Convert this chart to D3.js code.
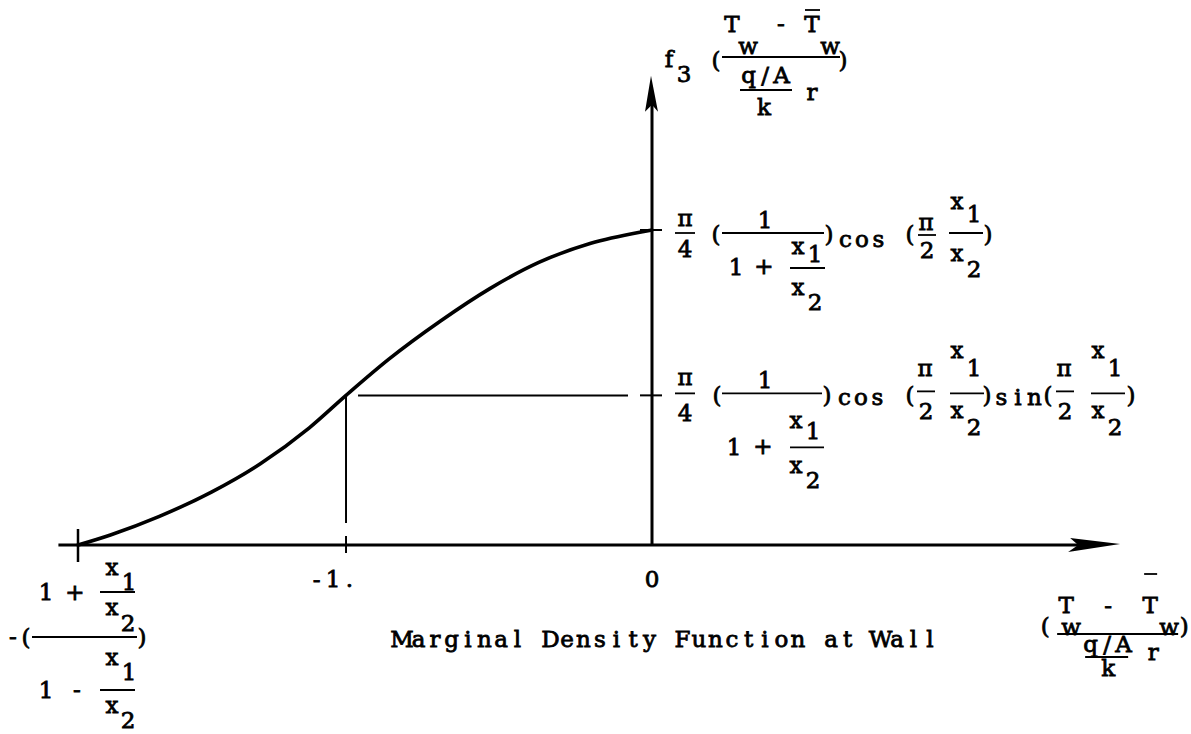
<!DOCTYPE html>
<html>
<head>
<meta charset="utf-8">
<script src="https://cdn.jsdelivr.net/npm/d3@7"></script>
<style>
  html, body { margin: 0; padding: 0; background: #fff; }
  svg text { font-family: "DejaVu Serif", serif; font-size: 23px; fill: #000; stroke: #000; stroke-width: 0.8px; }
</style>
</head>
<body>
<svg id="chart" width="1191" height="734"></svg>
<script>
// Marginal density f3 of the normalised wall temperature
const curveX = [-1.876, -1.77, -1.61, -1.44, -1.28, -1.12, -1.0, -0.86, -0.69, -0.53, -0.37, -0.2, -0.04, 0];
const curveY = [0, 0.032, 0.091, 0.168, 0.258, 0.372, 0.475, 0.590, 0.712, 0.814, 0.897, 0.958, 0.993, 1.0];

// marked abscissa and the value of f3 there
const markX = -1.0;
const markY = 0.475;

// axis ticks
const xTickValues = [-1, 0];
const xTickLabels = ["-1.", "0"];
const xEndValue = -1.876;
const yTickValues = [1.0, 0.475];

const PITCH = 16.5;   // typewriter character pitch

const svg = d3.select("#chart");

const xScale = d3.scaleLinear().domain([xEndValue, 0]).range([78, 652]);
const yScale = d3.scaleLinear().domain([0, 1]).range([545, 230]);

const x0 = xScale(0), y0 = yScale(0);
const xAxisStart = xScale(-1.94), xAxisEnd = xScale(1.53);
const yAxisTop = yScale(1.49);

// place a string one character per typewriter cell, centred on cx
function typeText(sel, str, cx, y) {
  const chars = Array.from(str);
  const first = cx - (chars.length - 1) * PITCH / 2;
  chars.forEach((c, i) => {
    if (c === " ") return;
    sel.append("text").attr("x", first + i * PITCH).attr("y", y)
      .attr("text-anchor", "middle").text(c);
  });
}

// ---- axes with arrowheads ----
svg.append("line").attr("x1", xAxisStart).attr("x2", xAxisEnd - 30)
  .attr("y1", y0).attr("y2", y0).attr("stroke", "#000").attr("stroke-width", 3);
svg.append("path")
  .attr("d", `M${xAxisEnd},${y0 - 1} L${xAxisEnd - 50},${y0 - 7} L${xAxisEnd - 42},${y0} L${xAxisEnd - 52},${y0 + 7} Z`)
  .attr("fill", "#000");

svg.append("line").attr("x1", x0).attr("x2", x0)
  .attr("y1", y0).attr("y2", yAxisTop + 28).attr("stroke", "#000").attr("stroke-width", 3);
svg.append("path")
  .attr("d", `M${x0 - 1},${yAxisTop} L${x0 - 7},${yAxisTop + 36} L${x0},${yAxisTop + 29} L${x0 + 6},${yAxisTop + 36} Z`)
  .attr("fill", "#000");

// ---- ticks ----
svg.append("line").attr("x1", xScale(xEndValue)).attr("x2", xScale(xEndValue))
  .attr("y1", y0 - 16).attr("y2", y0 + 17).attr("stroke", "#000").attr("stroke-width", 2.5);
svg.selectAll(".xtick").data(xTickValues.filter(v => v !== 0)).join("line")
  .attr("class", "xtick")
  .attr("x1", d => xScale(d)).attr("x2", d => xScale(d))
  .attr("y1", y0 - 9).attr("y2", y0 + 8).attr("stroke", "#000").attr("stroke-width", 2);
svg.selectAll(".ytick").data(yTickValues).join("line")
  .attr("class", "ytick")
  .attr("x1", x0 - 12).attr("x2", x0 + 10)
  .attr("y1", d => yScale(d)).attr("y2", d => yScale(d))
  .attr("stroke", "#000").attr("stroke-width", 2);

// ---- density curve ----
const pts = curveX.map((x, i) => [x, curveY[i]]);
svg.append("path").datum(pts)
  .attr("d", d3.line().x(d => xScale(d[0])).y(d => yScale(d[1])).curve(d3.curveMonotoneX))
  .attr("fill", "none").attr("stroke", "#000").attr("stroke-width", 3.6)
  .attr("stroke-linecap", "round");

// ---- guide lines from the marked point ----
svg.append("line").attr("x1", xScale(markX)).attr("x2", xScale(markX))
  .attr("y1", yScale(markY)).attr("y2", y0 - 22)
  .attr("stroke", "#000").attr("stroke-width", 2);
svg.append("line").attr("x1", xScale(markX) + 12).attr("x2", x0 - 24)
  .attr("y1", yScale(markY)).attr("y2", yScale(markY))
  .attr("stroke", "#000").attr("stroke-width", 2);

// ---- typed formula helper: glyphs [text, dx, baseline dy], bars [x1, x2, y] ----
function formula(ox, oy, glyphs, bars) {
  const g = svg.append("g").attr("transform", `translate(${ox},${oy})`);
  glyphs.forEach(d => typeText(g, d[0], d[1], d[2]));
  g.selectAll("line").data(bars).join("line")
    .attr("x1", d => d[0]).attr("x2", d => d[1])
    .attr("y1", d => d[2]).attr("y2", d => d[2])
    .attr("stroke", "#000").attr("stroke-width", 1.8);
  return g;
}

// x tick labels
xTickValues.forEach((v, i) => {
  typeText(svg, xTickLabels[i], xScale(v) + (v === 0 ? 0 : -13), y0 + 42);
});

// left end of the support: -(1 + x1/x2)/(1 - x1/x2)
formula(xScale(xEndValue), y0, [
  ["1", -32, 55], ["+", -3, 55], ["x", 34, 30], ["1", 51, 45], ["x", 34, 70], ["2", 50, 86],
  ["-", -65, 99], ["(", -52, 100], [")", 64, 100],
  ["x", 34, 120], ["1", 51, 135], ["1", -32, 153], ["-", -1, 152], ["x", 34, 168], ["2", 50, 183]
], [[22, 57, 47], [-46, 59, 92], [22, 57, 145]]);

// upper y label: pi/4 (1/(1 + x1/x2)) cos(pi/2 x1/x2)
formula(x0, yScale(yTickValues[0]), [
  ["π", 33, -4], ["4", 33, 27], ["(", 64, 12], ["1", 113, -2], [")", 177, 12],
  ["1", 84, 45], ["+", 112, 44], ["x", 146, 24], ["1", 163, 32], ["x", 146, 65], ["2", 163, 80],
  ["cos", 210, 17], ["(", 258, 12], ["π", 274, 0], ["2", 275, 28],
  ["x", 305, -21], ["1", 322, -8], ["x", 305, 31], ["2", 322, 47], [")", 336, 12]
], [[23, 43, 3], [70, 172, 3], [138, 173, 38], [266, 284, 5], [297, 331, 3]]);

// lower y label: pi/4 (1/(1 + x1/x2)) cos(pi/2 x1/x2) sin(pi/2 x1/x2)
formula(x0, yScale(yTickValues[1]), [
  ["π", 33, -10], ["4", 33, 26], ["(", 65, 8], ["1", 113, -7], [")", 175, 8],
  ["cos", 209, 10],
  ["x", 144, 33], ["1", 161, 44], ["1", 82, 60], ["+", 111, 59], ["x", 144, 78], ["2", 161, 93],
  ["(", 258, 8], ["π", 273, -19], ["2", 274, 24],
  ["x", 305, -37], ["1", 322, -19], ["x", 305, 23], ["2", 322, 40], [")", 335, 8],
  ["sin", 366, 10], ["(", 396, 8], ["π", 412, -19], ["2", 413, 24],
  ["x", 446, -37], ["1", 463, -19], ["x", 446, 23], ["2", 463, 40], [")", 479, 8]
], [[23, 43, -2], [70, 170, -2], [138, 172, 52], [265, 283, -4], [298, 332, -2], [404, 422, -4], [439, 473, -2]]);

// y axis title: f3 ((Tw - T̄w) / ((q/A)/k r))
formula(x0, 0, [
  ["f", 17, 67], ["3", 32, 82], ["(", 64, 68], ["T", 80, 32], ["w", 96, 54], ["-", 129, 31],
  ["T", 160, 32], ["w", 178, 54], [")", 191, 68], ["q/A", 113, 83], ["k", 112, 115], ["r", 160, 100]
], [[70, 188, 57], [88, 140, 90], [153, 168, 10]]);

// x axis variable at the right end
formula(xAxisEnd, y0, [
  ["(", -75, 89], ["T", -54, 68], ["w", -49, 90], ["-", -12, 68], ["T", 30, 68], ["w", 49, 90],
  [")", 64, 89], ["q/A", -13, 107], ["r", 33, 115], ["k", -12, 131]
], [[-63, 58, 89], [-35, 8, 112], [24, 37, 29]]);

// chart title under the axis
typeText(svg, "Marginal Density Function at Wall", 666, 647);
</script>
</body>
</html>
